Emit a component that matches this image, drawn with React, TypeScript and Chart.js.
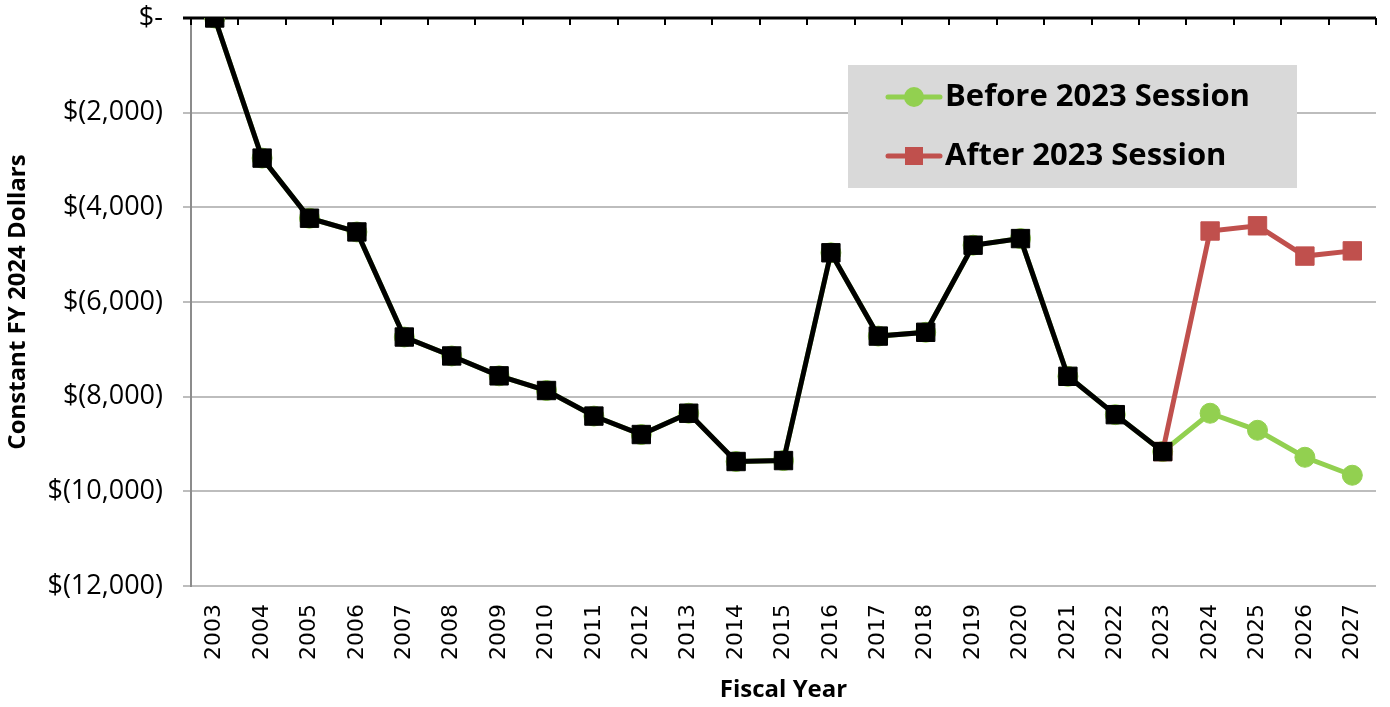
import React, { useEffect, useRef } from 'react';
import { Chart, registerables } from 'chart.js';

Chart.register(...registerables);

const years = ['2003','2004','2005','2006','2007','2008','2009','2010','2011','2012','2013','2014','2015','2016','2017','2018','2019','2020','2021','2022','2023','2024','2025','2026','2027'];
const historical = [0, -2960, -4230, -4520, -6740, -7140, -7560, -7870, -8410, -8800, -8350, -9370, -9350, -4960, -6720, -6640, -4800, -4660, -7570, -8380, -9160];
const beforeProjection = [-8350, -8710, -9280, -9660];
const afterProjection = [-4500, -4390, -5030, -4920];
const yTickValues = [0, -2000, -4000, -6000, -8000, -10000, -12000];
const yTickLabels = ['$-', '$(2,000)', '$(4,000)', '$(6,000)', '$(8,000)', '$(10,000)', '$(12,000)'];
const legendLabels = ['Before 2023 Session', 'After 2023 Session'];

const GREEN = '#92d050';
const RED = '#c0504d';
const FONT = '"Open Sans", Lato, sans-serif';
const XFONT = '"DejaVu Sans", sans-serif';

const decorPlugin = {
  id: 'decor',
  beforeDatasetsDraw(chart: any) {
    const { ctx, chartArea } = chart;
    const y0 = chart.scales.y.getPixelForValue(0);
    ctx.save();
    ctx.strokeStyle = '#000';
    ctx.lineWidth = 3;
    ctx.beginPath();
    ctx.moveTo(chartArea.left - 8, y0);
    ctx.lineTo(chartArea.right, y0);
    ctx.stroke();
    ctx.lineWidth = 2;
    const n = years.length;
    const w = (chartArea.right - chartArea.left) / n;
    for (let i = 0; i <= n; i++) {
      const px = Math.round(chartArea.left + i * w);
      ctx.beginPath();
      ctx.moveTo(px, y0);
      ctx.lineTo(px, y0 + 7);
      ctx.stroke();
    }
    ctx.restore();
  },
  afterDraw(chart: any) {
    const { ctx } = chart;
    ctx.save();
    ctx.fillStyle = '#d9d9d9';
    ctx.fillRect(848, 65, 449, 123);
    const rows = [
      { y: 97, color: GREEN, label: legendLabels[0], shape: 'circle' },
      { y: 156, color: RED, label: legendLabels[1], shape: 'rect' },
    ];
    rows.forEach((r) => {
      ctx.strokeStyle = r.color;
      ctx.lineWidth = 5;
      ctx.lineCap = 'round';
      ctx.beginPath();
      ctx.moveTo(888, r.y);
      ctx.lineTo(940, r.y);
      ctx.stroke();
      ctx.fillStyle = r.color;
      if (r.shape === 'circle') {
        ctx.beginPath();
        ctx.arc(914, r.y, 10, 0, Math.PI * 2);
        ctx.fill();
      } else {
        ctx.fillRect(905, r.y - 9, 18, 18);
      }
      ctx.fillStyle = '#000';
      ctx.font = `bold 31px ${FONT}`;
      ctx.textBaseline = 'middle';
      ctx.textAlign = 'left';
      ctx.fillText(r.label, 945, r.y);
    });
    ctx.restore();
  },
};

export default function App() {
  const canvasRef = useRef<HTMLCanvasElement | null>(null);

  useEffect(() => {
    document.body.style.margin = '0';
    const canvas = canvasRef.current;
    if (!canvas) return;
    const greenData = [...historical, ...beforeProjection];
    const redData: (number | null)[] = [
      ...historical.map((v, i) => (i === historical.length - 1 ? v : null)),
      ...afterProjection,
    ];
    const chart = new Chart(canvas, {
      type: 'line',
      data: {
        labels: years,
        datasets: [
          {
            label: 'Historical',
            data: historical,
            borderColor: '#000',
            backgroundColor: '#000',
            borderWidth: 5,
            pointStyle: 'rect',
            pointRadius: 13,
            pointBorderWidth: 1,
            pointBorderColor: '#000',
            pointBackgroundColor: '#000',
            order: 0,
            tension: 0,
          },
          {
            label: legendLabels[1],
            data: redData,
            borderColor: RED,
            backgroundColor: RED,
            borderWidth: 5,
            pointStyle: 'rect',
            pointRadius: 13,
            pointBorderWidth: 1,
            pointBorderColor: RED,
            pointBackgroundColor: RED,
            order: 1,
            tension: 0,
          },
          {
            label: legendLabels[0],
            data: greenData,
            borderColor: GREEN,
            backgroundColor: GREEN,
            borderWidth: 5,
            pointStyle: 'circle',
            pointRadius: 10,
            pointBorderWidth: 1,
            pointBorderColor: GREEN,
            pointBackgroundColor: GREEN,
            order: 2,
            tension: 0,
          },
        ],
      },
      options: {
        animation: false,
        responsive: false,
        maintainAspectRatio: false,
        layout: { padding: { top: 18, right: 4, left: 0, bottom: 0 } },
        plugins: {
          legend: { display: false },
          tooltip: { enabled: false },
        },
        scales: {
          x: {
            offset: true,
            grid: { display: false, drawTicks: false },
            border: { display: false },
            ticks: {
              color: '#000',
              font: { family: XFONT, size: 22 },
              minRotation: 90,
              maxRotation: 90,
              padding: 18,
              autoSkip: false,
            },
            title: {
              display: true,
              text: 'Fiscal Year',
              color: '#000',
              font: { family: FONT, size: 24, weight: 'bold' },
              padding: { top: 0, bottom: 2 },
            },
            afterFit(scale: any) {
              scale.height = 121;
              scale.paddingLeft = 0;
              scale.paddingRight = 0;
              scale.paddingTop = 0;
              scale.paddingBottom = 0;
            },
          },
          y: {
            min: -12000,
            max: 0,
            afterBuildTicks(scale: any) {
              scale.ticks = yTickValues.map((v) => ({ value: v }));
            },
            grid: {
              color: (c: any) => (c.tick && c.tick.value === 0 ? 'rgba(0,0,0,0)' : '#bdbdbd'),
              lineWidth: 2,
              tickLength: 8,
              drawTicks: true,
            },
            border: { display: true, color: '#8c8c8c', width: 2 },
            ticks: {
              color: '#000',
              font: { family: FONT, size: 27 },
              padding: 20,
              callback: (v: any) => {
                const i = yTickValues.indexOf(Number(v));
                return i >= 0 ? yTickLabels[i] : '';
              },
            },
            title: {
              display: true,
              text: 'Constant FY 2024 Dollars',
              color: '#000',
              font: { family: FONT, size: 24, weight: 'bold' },
              padding: { top: 4, bottom: 0 },
            },
            afterFit(scale: any) {
              scale.width = 191;
              scale.paddingLeft = 0;
              scale.paddingRight = 0;
              scale.paddingTop = 0;
              scale.paddingBottom = 0;
            },
          },
        },
      },
      plugins: [decorPlugin],
    });
    return () => chart.destroy();
  }, []);

  return (
    <div style={{ width: 1390, height: 707 }}>
      <canvas ref={canvasRef} width={1390} height={707} style={{ width: 1390, height: 707, display: 'block' }} />
    </div>
  );
}
